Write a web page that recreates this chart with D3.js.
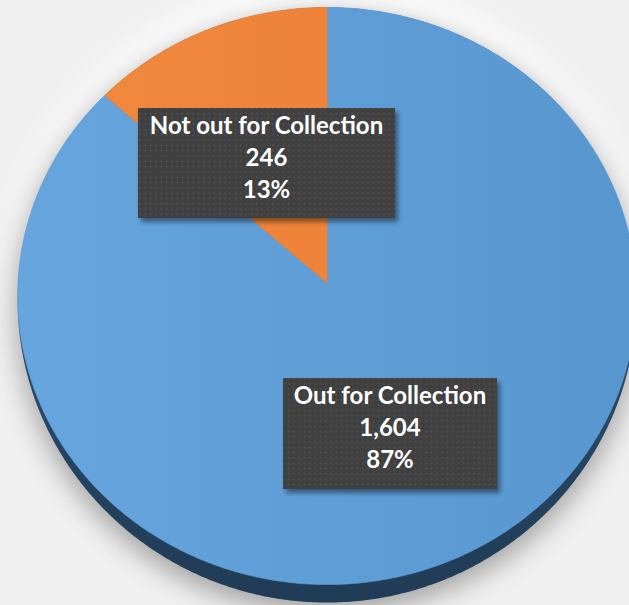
<!DOCTYPE html>
<html>
<head>
<meta charset="utf-8">
<script src="https://cdn.jsdelivr.net/npm/d3@7"></script>
<style>
  html, body { margin: 0; padding: 0; background: #f0f0f0; }
  svg { display: block; }
</style>
</head>
<body>
<svg id="chart" width="629" height="605"></svg>
<script>
// Collection status counts
const categories = ["Out for Collection", "Not out for Collection"];
const counts = [1604, 246];
const sliceColors = ["#5f9dd6", "#ee8139"];
const gradStops = [["#67a5de", "#5896d0"], ["#f08a40", "#ec7c32"]];

const W = 629, H = 605;
const svg = d3.select("#chart");
const defs = svg.append("defs");

// Tilted pie geometry: centre, horizontal radius, vertical radius, perspective and rim depth
const cx = 327, cy = 283, R = 309, A = 288, persp = -0.045, depth = 18;

function project(angle, r) {
  const u = Math.sin(angle) * r, v = -Math.cos(angle) * r;
  const k = 1 + persp * v;
  return [cx + R * u / k, cy + A * v / k];
}

const total = d3.sum(counts);
const pct = d3.format(".0%");
const fmt = d3.format(",");
const pie = d3.pie().sort(null).value(d => d.value);
const arcs = pie(categories.map((c, i) => ({ name: c, value: counts[i], i })));

const line = d3.line();
function slicePath(a0, a1) {
  const n = Math.max(8, Math.ceil((a1 - a0) / 0.01));
  const pts = [project(0, 0)];
  for (let j = 0; j <= n; j++) pts.push(project(a0 + (a1 - a0) * j / n, 1));
  return line(pts) + "Z";
}
// Outline of the disc; the rim is thickest at the front and vanishes at the back
function rimPoints(dy, rimDepth, grow) {
  const pts = [];
  for (let j = 0; j <= 720; j++) {
    const a = j / 720 * 2 * Math.PI;
    const p = project(a, 1 + (grow || 0));
    const v = -Math.cos(a);
    const t = Math.max(0, (1 + v) / 2);
    pts.push([p[0], p[1] + dy + rimDepth * t * t]);
  }
  return pts;
}

// Filters: soft shadow below, soft glow above, box shadows
const fShadow = defs.append("filter").attr("id", "pieShadow")
  .attr("x", "-30%").attr("y", "-30%").attr("width", "160%").attr("height", "160%");
fShadow.append("feGaussianBlur").attr("stdDeviation", 13);

const fBox = defs.append("filter").attr("id", "boxShadow")
  .attr("x", "-20%").attr("y", "-20%").attr("width", "140%").attr("height", "140%");
fBox.append("feGaussianBlur").attr("in", "SourceAlpha").attr("stdDeviation", 2.5).attr("result", "b");
fBox.append("feOffset").attr("dx", 3).attr("dy", 4).attr("result", "o");
fBox.append("feComponentTransfer").attr("in", "o").attr("result", "s")
  .append("feFuncA").attr("type", "linear").attr("slope", 0.45);
const mg = fBox.append("feMerge");
mg.append("feMergeNode").attr("in", "s");
mg.append("feMergeNode").attr("in", "SourceGraphic");

// Slice gradients
gradStops.forEach((s, i) => {
  const g = defs.append("linearGradient").attr("id", "slice" + i)
    .attr("gradientUnits", "userSpaceOnUse")
    .attr("x1", cx - R).attr("y1", 0).attr("x2", cx + R).attr("y2", 0);
  g.append("stop").attr("offset", 0).attr("stop-color", s[0]);
  g.append("stop").attr("offset", 1).attr("stop-color", s[1]);
});
const rimGrad = defs.append("linearGradient").attr("id", "rim")
  .attr("x1", 0).attr("y1", 0).attr("x2", 0).attr("y2", 1);
rimGrad.append("stop").attr("offset", 0).attr("stop-color", "#2f587d");
rimGrad.append("stop").attr("offset", 0.6).attr("stop-color", "#284a6a");
rimGrad.append("stop").attr("offset", 1).attr("stop-color", "#203b55");

// Dotted texture for the data label boxes
const pat = defs.append("pattern").attr("id", "dots")
  .attr("patternUnits", "userSpaceOnUse").attr("width", 5.3).attr("height", 5.3);
pat.append("rect").attr("width", 5.3).attr("height", 5.3).attr("fill", "#3f3f3f");
pat.append("rect").attr("x", 1.5).attr("y", 1.5).attr("width", 1.6).attr("height", 1.6).attr("fill", "#545454");

// Background
svg.append("rect").attr("width", W).attr("height", H).attr("fill", "#f0f0f0");

// White halo above and grey shadow below the pie
svg.append("path")
  .attr("d", line(rimPoints(-18, 0, 0.02)) + "Z")
  .attr("fill", "#ffffff").attr("filter", "url(#pieShadow)");
svg.append("path")
  .attr("d", line(rimPoints(8, depth, 0.01)) + "Z")
  .attr("fill", "#8c8c8c").attr("opacity", 0.75).attr("filter", "url(#pieShadow)");

// Rim (side of the disc)
svg.append("path")
  .attr("d", line(rimPoints(0, depth)) + "Z")
  .attr("fill", "url(#rim)");

// Top face slices
svg.append("g").selectAll("path").data(arcs).join("path")
  .attr("d", d => slicePath(d.startAngle, d.endAngle))
  .attr("fill", d => `url(#slice${d.data.i})`)
  .attr("stroke", d => sliceColors[d.data.i]).attr("stroke-width", 0.6);

// Data labels
const labelBoxes = [
  { x: 283, y: 378, w: 214, h: 111 },
  { x: 138, y: 108, w: 257, h: 110 }
];
const labels = svg.append("g").selectAll("g").data(arcs).join("g");
labels.append("rect")
  .attr("x", d => labelBoxes[d.data.i].x).attr("y", d => labelBoxes[d.data.i].y)
  .attr("width", d => labelBoxes[d.data.i].w).attr("height", d => labelBoxes[d.data.i].h)
  .attr("fill", "url(#dots)").attr("filter", "url(#boxShadow)");
labels.each(function (d) {
  const b = labelBoxes[d.data.i];
  const lines = [d.data.name, fmt(d.data.value), pct(d.data.value / total)];
  d3.select(this).selectAll("text").data(lines).join("text")
    .attr("x", b.x + b.w / 2)
    .attr("y", (t, j) => b.y + 26 + j * 32)
    .attr("text-anchor", "middle")
    .attr("fill", "#ffffff")
    .attr("font-family", "Lato, 'Open Sans', sans-serif")
    .attr("font-weight", "bold")
    .attr("font-size", 24)
    .text(t => t);
});
</script>
</body>
</html>
